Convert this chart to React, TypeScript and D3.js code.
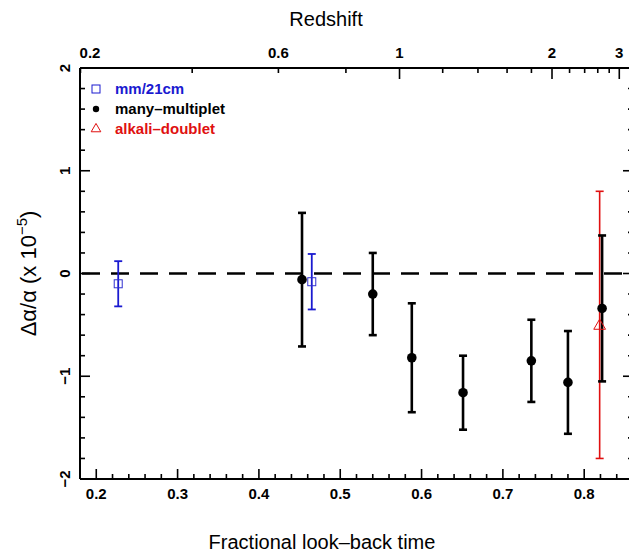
import React from "react";
import * as d3 from "d3";

// ---- data ----
const mmX = [0.227, 0.465];
const mmY = [-0.1, -0.08];
const mmErr = [0.22, 0.27];

const mpX = [0.453, 0.54, 0.588, 0.651, 0.735, 0.78, 0.822];
const mpY = [-0.06, -0.2, -0.82, -1.16, -0.85, -1.06, -0.34];
const mpErr = [0.65, 0.4, 0.53, 0.36, 0.4, 0.5, 0.71];

const adX = [0.819];
const adY = [-0.5];
const adErr = [1.3];

const xTickLabels = [0.2, 0.3, 0.4, 0.5, 0.6, 0.7, 0.8];
const yTickLabels = [-2, -1, 0, 1, 2];
const zMajor = [0.2, 0.6, 1, 2, 3];
const zMinor = [0.4, 0.8, 1.2, 1.4, 1.6, 1.8, 2.2, 2.4, 2.6, 2.8];
const zLong = [1, 2, 3];

const legendItems = [
  { label: "mm/21cm", color: "#1a1ad0", shape: "square" },
  { label: "many–multiplet", color: "#000000", shape: "dot" },
  { label: "alkali–doublet", color: "#e01010", shape: "triangle" },
];

// flat LCDM lookback fraction (Om=0.3) used as the top-axis transform
function lookbackFrac(z: number) {
  const OL = 0.7, Om = 0.3;
  const k = 2 / (3 * Math.sqrt(OL));
  const r = Math.sqrt(OL / Om);
  const t = (zz: number) => k * Math.asinh(r * Math.pow(1 + zz, -1.5));
  return 1 - t(z) / t(0);
}

const W = 629, H = 554;
const left = 80, right = 633, top = 68, bottom = 479;

export default function App() {
  const x = d3.scaleLinear().domain([0.18, 0.86]).range([left, right]);
  const y = d3.scaleLinear().domain([-2, 2]).range([bottom, top]);

  const xMinor = d3.range(0.18, 0.861, 0.02).map((v) => +v.toFixed(2));
  const yMinor = d3.range(-2, 2.001, 0.2).map((v) => +v.toFixed(1));
  const isMajorX = (v: number) => Math.abs(v * 10 - Math.round(v * 10)) < 1e-6;
  const isMajorY = (v: number) => Math.abs(v - Math.round(v)) < 1e-6;

  const font = "'Liberation Sans', Arial, Helvetica, sans-serif";
  const cap = 4;

  const errBar = (xv: number, yv: number, e: number, color: string, sw: number, key: string) => (
    <g key={key} stroke={color} strokeWidth={sw}>
      <line x1={x(xv)} x2={x(xv)} y1={y(yv + e)} y2={y(yv - e)} />
      <line x1={x(xv) - cap} x2={x(xv) + cap} y1={y(yv + e)} y2={y(yv + e)} />
      <line x1={x(xv) - cap} x2={x(xv) + cap} y1={y(yv - e)} y2={y(yv - e)} />
    </g>
  );

  return (
    <svg width={W} height={H} style={{ position: "absolute", left: 0, top: 0, background: "#fff" }} fontFamily={font}>
      <rect x={0} y={0} width={W} height={H} fill="#fff" />
      {/* frame */}
      <g stroke="#000" strokeWidth={2} fill="none">
        <line x1={left} x2={right} y1={top} y2={top} />
        <line x1={left} x2={right} y1={bottom} y2={bottom} />
        <line x1={left} x2={left} y1={top} y2={bottom} />
        <line x1={right} x2={right} y1={top} y2={bottom} />
      </g>
      {/* bottom ticks */}
      <g stroke="#000" strokeWidth={1.6}>
        {xMinor.map((v) => (
          <line key={"bx" + v} x1={x(v)} x2={x(v)} y1={bottom} y2={bottom - (isMajorX(v) ? 10 : 5)} />
        ))}
      </g>
      {/* left & right ticks */}
      <g stroke="#000" strokeWidth={1.6}>
        {yMinor.map((v) => (
          <g key={"ly" + v}>
            <line x1={left} x2={left + (isMajorY(v) ? 10 : 5)} y1={y(v)} y2={y(v)} />
            <line x1={right} x2={right - (isMajorY(v) ? 10 : 5)} y1={y(v)} y2={y(v)} />
          </g>
        ))}
      </g>
      {/* top redshift ticks */}
      <g stroke="#000" strokeWidth={1.6}>
        {[...zMajor, ...zMinor].map((z) => (
          <line key={"tz" + z} x1={x(lookbackFrac(z))} x2={x(lookbackFrac(z))} y1={top}
            y2={top + (zLong.includes(z) ? 11 : 5)} />
        ))}
      </g>
      {/* bottom tick labels */}
      <g fontSize={15} fontWeight="bold" textAnchor="middle">
        {xTickLabels.map((v) => (
          <text key={"xl" + v} x={x(v)} y={499}>{v.toFixed(1)}</text>
        ))}
      </g>
      {/* top tick labels */}
      <g fontSize={15} fontWeight="bold" textAnchor="middle">
        {zMajor.map((z) => (
          <text key={"zl" + z} x={Math.max(x(lookbackFrac(z)), 90)} y={58}>{String(z)}</text>
        ))}
      </g>
      {/* left tick labels (rotated) */}
      <g fontSize={15} fontWeight="bold" textAnchor="middle">
        {yTickLabels.map((v) => (
          <text key={"yl" + v} transform={`translate(70,${y(v)}) rotate(-90)`}>
            {v < 0 ? "−" + Math.abs(v) : String(v)}
          </text>
        ))}
      </g>
      {/* axis titles */}
      <text x={326} y={26} fontSize={20} textAnchor="middle">Redshift</text>
      <text x={322} y={549} fontSize={20} textAnchor="middle">Fractional look–back time</text>
      <text transform={`translate(36,${y(0)}) rotate(-90)`} fontSize={22} textAnchor="middle">
        Δα/α (x 10<tspan dy={-9} fontSize={15}>−5</tspan><tspan dy={9}>)</tspan>
      </text>
      {/* zero line */}
      <line x1={left} x2={right} y1={y(0)} y2={y(0)} stroke="#000" strokeWidth={2.6} strokeDasharray="18,11" strokeDashoffset={-2} />
      {/* alkali doublet error bars */}
      {adX.map((v, i) => errBar(v, adY[i], adErr[i], "#e01010", 1.6, "ad" + i))}
      {/* many multiplet */}
      {mpX.map((v, i) => errBar(v, mpY[i], mpErr[i], "#000", 2.6, "mp" + i))}
      {mpX.map((v, i) => (
        <circle key={"mpc" + i} cx={x(v)} cy={y(mpY[i])} r={4.8} fill="#000" />
      ))}
      {/* mm/21cm */}
      {mmX.map((v, i) => errBar(v, mmY[i], mmErr[i], "#1a1ad0", 1.8, "mm" + i))}
      {mmX.map((v, i) => (
        <rect key={"mms" + i} x={x(v) - 4} y={y(mmY[i]) - 4} width={8} height={8} fill="none" stroke="#3030d0" strokeWidth={1} />
      ))}
      {adX.map((v, i) => (
        <path key={"adt" + i} d={d3.symbol(d3.symbolTriangle, 60)() || ""}
          transform={`translate(${x(v)},${y(adY[i]) + 1})`} fill="none" stroke="#e01010" strokeWidth={1} />
      ))}
      {/* legend */}
      <g>
        {legendItems.map((it, i) => {
          const cy = 89 + i * 20;
          const cx = 96;
          return (
            <g key={"lg" + i}>
              {it.shape === "square" && (
                <rect x={cx - 4} y={cy - 4} width={8} height={8} fill="none" stroke={it.color} strokeWidth={1} />
              )}
              {it.shape === "dot" && <circle cx={cx} cy={cy} r={3.2} fill={it.color} />}
              {it.shape === "triangle" && (
                <path d={d3.symbol(d3.symbolTriangle, 40)() || ""} transform={`translate(${cx},${cy})`}
                  fill="none" stroke={it.color} strokeWidth={1} />
              )}
              <text x={115} y={cy + 5} fontSize={15} fontWeight="bold" fill={it.color}>{it.label}</text>
            </g>
          );
        })}
      </g>
    </svg>
  );
}
